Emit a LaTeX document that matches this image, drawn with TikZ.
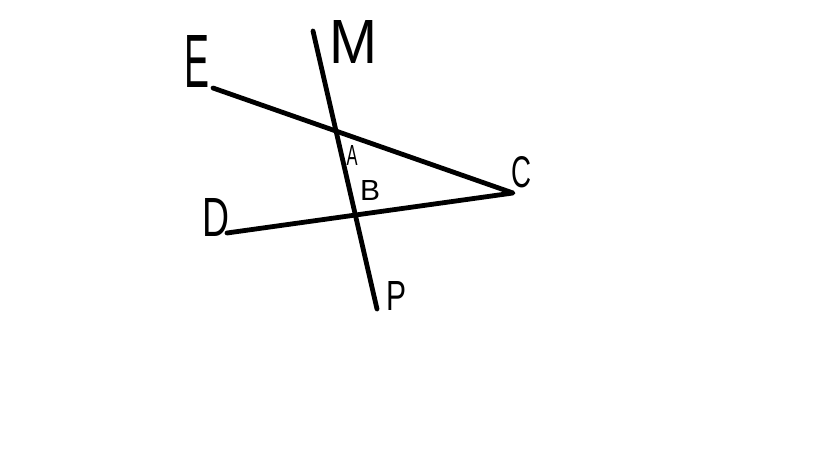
\documentclass[tikz,border=0pt]{standalone}
\usepackage{fontspec}
\setmainfont{Liberation Sans}
\begin{document}
\begin{tikzpicture}[x=1pt,y=-1pt,
  seg/.style={line width=4.8pt,line cap=round,line join=round},
  lbl/.style={inner sep=0pt,anchor=center}]
\useasboundingbox[fill=white] (0,0) rectangle (819,460);
\coordinate (e) at (213,88);
\coordinate (c) at (513,193);
\coordinate (d) at (227,233);
\coordinate (m) at (313,31);
\coordinate (p) at (377,309);
\draw[seg] (e) -- (c) -- (d);
\draw[seg] (m) -- (p);
\node[lbl] (lE) at (197,61) {\resizebox{25pt}{52pt}{E}};
\node[lbl] (lM) at (354,42) {\resizebox{48pt}{43pt}{M}};
\node[lbl] (lA) at (352,155) {\resizebox{11pt}{20pt}{A}};
\node[lbl] (lB) at (370,190) {\resizebox{20pt}{20pt}{B}};
\node[lbl] (lC) at (521,172) {\resizebox{20pt}{31pt}{C}};
\node[lbl] (lD) at (216,217) {\resizebox{27pt}{38pt}{D}};
\node[lbl] (lP) at (396,296) {\resizebox{20pt}{29pt}{P}};
\end{tikzpicture}
\end{document}
